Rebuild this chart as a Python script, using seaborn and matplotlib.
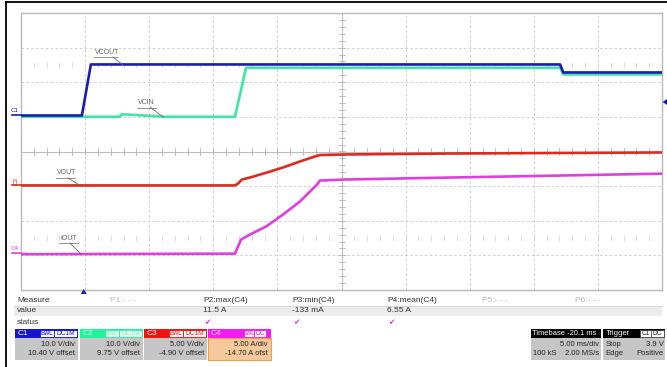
import matplotlib
matplotlib.use("Agg")
import matplotlib.pyplot as plt
import seaborn as sns
import pandas as pd
import numpy as np
from matplotlib.patches import Rectangle, Polygon

# ---- acquisition settings -------------------------------------------------
# horizontal: 5 ms/div, 10 divisions, trigger delay -20.1 ms (time in ms from trigger)
t_left = -4.9
ms_per_div = 5.0
n_hdiv = 10
n_vdiv = 8

# vertical settings per channel (units/div and offset)
ch_names = ["C1", "C2", "C3", "C4"]
ch_scale = [10.0, 10.0, 5.0, 5.0]
ch_offset = [10.40, 9.75, -4.90, -14.70]
ch_trace_label = ["VCOUT", "VCIN", "VOUT", "IOUT"]
ch_colors = ["#1c1cb0", "#3fe6a2", "#dc2a1e", "#e03ee0"]

# ---- captured waveforms (time in ms, value in V or A) ---------------------
c1_t = [-4.9, -0.15, 0.55, 37.15, 37.4, 45.1]
c1_v = [0.0, 0.0, 14.74, 14.74, 12.43, 12.43]

c2_t = [-4.9, 2.82, 2.9, 3.37, 6.33, 11.79, 12.65, 37.15, 37.4, 45.1]
c2_v = [0.28, 0.28, 0.94, 0.94, 0.28, 0.28, 14.44, 14.44, 12.5, 12.5]

c3_t = [-4.9, 11.79, 12.03, 12.34, 12.96, 14.29, 15.54, 16.86, 18.03, 18.42, 20.37, 28.56, 45.1]
c3_v = [0.0, 0.0, 0.28, 0.85, 1.14, 1.87, 2.59, 3.46, 4.18, 4.39, 4.47, 4.61, 4.76]

c4_t = [-4.9, 11.79, 12.26, 12.96, 14.21, 15.54, 16.86, 18.19, 18.42, 20.37, 28.56, 45.1]
c4_v = [-0.133, -0.05, 1.98, 2.71, 3.86, 5.60, 7.48, 9.93, 10.51, 10.65, 10.94, 11.5]

# ---- measurements ----------------------------------------------------------
meas_names = ["P1:- - -", "P2:max(C4)", "P3:min(C4)", "P4:mean(C4)", "P5:- - -", "P6:- - -"]
meas_values = ["", "11.5 A", "-133 mA", "6.55 A", "", ""]
meas_active = [False, True, True, True, False, False]

trigger_level = 3.9  # V on C1

# ---- build long table in screen divisions ---------------------------------
frames = []
for name, t, v, sc, off in zip(ch_names, [c1_t, c2_t, c3_t, c4_t],
                               [c1_v, c2_v, c3_v, c4_v], ch_scale, ch_offset):
    v = np.asarray(v, dtype=float)
    frames.append(pd.DataFrame({"t": t, "div": (v + off) / sc, "ch": name}))
df = pd.concat(frames, ignore_index=True)

UI_FONT = "Liberation Sans"
plt.rcParams["font.family"] = [UI_FONT, "DejaVu Sans"]

W, H = 667, 367
fig = plt.figure(figsize=(W / 100, H / 100), dpi=100)
fig.patch.set_facecolor("white")

# plot grid area in pixels
gx0, gx1, gy0, gy1 = 21, 662, 13, 290
ax = fig.add_axes([gx0 / W, (H - gy1) / H, (gx1 - gx0) / W, (gy1 - gy0) / H])
ax.set_facecolor("white")

t_right = t_left + n_hdiv * ms_per_div
t_center = t_left + n_hdiv / 2 * ms_per_div

# graticule
grid_kw = dict(color="#cdcdcd", lw=0.7, ls=(0, (2.5, 2.5)), zorder=0)
for k in range(1, n_hdiv):
    if k != n_hdiv // 2:
        ax.axvline(t_left + k * ms_per_div, **grid_kw)
for k in range(-n_vdiv // 2 + 1, n_vdiv // 2):
    if k != 0:
        ax.axhline(k, **grid_kw)
ax.axvline(t_center, color="#bdbdbd", lw=0.8, zorder=0)
ax.axhline(0, color="#bdbdbd", lw=0.8, zorder=0)

# minor ticks on the centre cross (1/5 division)
tick_color = "#b5b5b5"
hx = 3 / 64.1 * ms_per_div
hy = 3 / 34.6
for y in np.arange(-4, 4.001, 0.2):
    ax.plot([t_center - hx, t_center + hx], [y, y], color=tick_color, lw=0.6, zorder=0)
for x in np.arange(t_left, t_right + 0.001, ms_per_div / 5):
    ax.plot([x, x], [-hy, hy], color=tick_color, lw=0.6, zorder=0)
    for yr in (2.5, -2.5):
        ax.plot([x, x], [yr - hy * 0.6, yr + hy * 0.6], color="#d2d2d2", lw=0.6, zorder=0)

# traces
sns.lineplot(data=df, x="t", y="div", hue="ch",
             hue_order=["C3", "C4", "C2", "C1"],
             palette=dict(zip(ch_names, ch_colors)),
             estimator=None, sort=False, legend=False,
             linewidth=1.9, ax=ax, zorder=3)

ax.set_xlim(t_left, t_right)
ax.set_ylim(-n_vdiv / 2, n_vdiv / 2)
ax.set_xticks([])
ax.set_yticks([])
ax.set_xlabel("")
ax.set_ylabel("")
for s in ax.spines.values():
    s.set_color("#b8b8b8")
    s.set_linewidth(1.0)

# ---- overlay in pixel coordinates for screen annotations -------------------
ov = fig.add_axes([0, 0, 1, 1], zorder=5)
ov.set_xlim(0, W)
ov.set_ylim(H, 0)
ov.axis("off")
ov.patch.set_alpha(0)

# outer frame
ov.plot([6, W], [2, 2], color="black", lw=1.3)
ov.plot([6, 6], [2, H], color="black", lw=1.3)

def tx(t):
    return gx0 + (t - t_left) / ms_per_div * (gx1 - gx0) / n_hdiv

def ty(d):
    return (gy0 + gy1) / 2 - d * (gy1 - gy0) / n_vdiv

# trace labels with leader lines
lab_col = "#666666"
trace_labels = [
    ("VCOUT", 95, 52, (113, 57), (123, 65)),
    ("VCIN", 138, 103, (150, 107), (163, 117)),
    ("VOUT", 57, 173, (68, 178), (81, 186)),
    ("IOUT", 60, 238, (70, 243), (81, 254)),
]
for text, x, y, p0, p1 in trace_labels:
    ov.text(x, y, text, fontsize=5, color=lab_col, va="center", ha="left")
    ov.plot([x - 1, x + len(text) * 4.6], [y + 4.5, y + 4.5], color=lab_col, lw=0.5)
    ov.plot([p0[0], p1[0]], [p0[1], p1[1]], color=lab_col, lw=0.6)

# channel ground markers on the left edge
for name, col, off, sc in zip(ch_names, ch_colors, ch_offset, ch_scale):
    if name == "C2":
        continue
    yz = ty(off / sc)
    ov.plot([12, gx0], [yz, yz], color=col, lw=1.2)
    if name == "C3":
        ov.text(16, yz - 4, name, fontsize=4.5, color=col, rotation=90,
                ha="center", va="center")
    else:
        ov.text(11, yz - 5, name, fontsize=4.5, color=col, ha="left", va="center")

# trigger level marker (right) and trigger time marker (bottom)
yl = ty((trigger_level + ch_offset[0]) / ch_scale[0])
ov.add_patch(Polygon([[gx1 + 0.5, yl], [gx1 + 5, yl - 3], [gx1 + 5, yl + 3]],
                     closed=True, color=ch_colors[0], lw=0))
xt = tx(0.0)
ov.add_patch(Polygon([[xt, 289], [xt - 3, 294], [xt + 3, 294]],
                     closed=True, color=ch_colors[0], lw=0))

# ---- measurement table -----------------------------------------------------
txt_col = "#333333"
fs = 6
fsb = 5.5
ov.add_patch(Rectangle((14, 305.5), gx1 - 14, 10.5, fc="#ececec", ec="none"))
ov.plot([14, gx1], [305.5, 305.5], color="#d0d0d0", lw=0.5)
ov.text(17, 300, "Measure", fontsize=fs, color=txt_col, va="center")
ov.text(17, 311, "value", fontsize=fs, color=txt_col, va="center")
ov.text(17, 322, "status", fontsize=fs, color=txt_col, va="center")
meas_x = [110, 203, 292, 387, 482, 575]
for x, name, val, act in zip(meas_x, meas_names, meas_values, meas_active):
    ov.text(x, 300, name, fontsize=fs, color=txt_col if act else "#b8b8b8", va="center")
    if val:
        ov.text(x, 311, val, fontsize=fs, color=txt_col, va="center")
    if act:
        ov.text(x + 1, 322.5, "\u2714", fontsize=5.5, color="#d63ad6", va="center",
                family="DejaVu Sans")

# ---- channel descriptor boxes ----------------------------------------------
hy0, hy1, by1 = 329, 338, 360
boxes = [
    # name, x0, x1, header color, name color, tags, tag face, tag text, body face, body edge, lines
    ("C1", 15, 78, "#1414c8", "white", [("BwL", 40, 54), ("DC1M", 54, 77)], "white", "#1414c8",
     "#c6c6c6", "none", ["10.0 V/div", "10.40 V offset"]),
    ("C2", 80, 143, "#22f29a", "#d8fff0", [("BwL", 105, 119), ("DC1M", 119, 142)], "#eafff6", "#7be8bd",
     "#c6c6c6", "none", ["10.0 V/div", "9.75 V offset"]),
    ("C3", 144, 207, "#f01414", "white", [("BwL", 169, 183), ("DC1M", 183, 206)], "white", "#e01414",
     "#c6c6c6", "none", ["5.00 V/div", "-4.90 V offset"]),
    ("C4", 208, 271, "#f21cf2", "#ffd0ff", [("BwL", 244, 254), ("DC", 254, 266)], "white", "#e01ce0",
     "#f6c99c", "#eea048", ["5.00 A/div", "-14.70 A ofst"]),
]
for (name, x0, x1, hc, nc, tags, tf, tt, bf, be, lines) in boxes:
    ov.add_patch(Rectangle((x0, hy0), x1 - x0, hy1 - hy0, fc=hc, ec="none"))
    ov.text(x0 + 3, (hy0 + hy1) / 2 + 0.3, name, fontsize=6, color=nc, va="center")
    for lab, a, b in tags:
        ov.add_patch(Rectangle((a, hy0 + 1), b - a, hy1 - hy0 - 2, fc=tf, ec=hc, lw=0.6))
        ov.text((a + b) / 2, (hy0 + hy1) / 2 + 0.3, lab, fontsize=4.8, color=tt,
                ha="center", va="center")
    ov.add_patch(Rectangle((x0, hy1), x1 - x0, by1 - hy1, fc=bf, ec=be, lw=0.8))
    ov.text(x1 - 3, 344.5, lines[0], fontsize=fsb, color="#222222", ha="right", va="center")
    ov.text(x1 - 3, 353.5, lines[1], fontsize=fsb, color="#222222", ha="right", va="center")

# timebase box
ov.add_patch(Rectangle((531, hy0), 70, hy1 - hy0, fc="black", ec="none"))
ov.text(532.5, (hy0 + hy1) / 2 + 0.3, "Timebase -20.1 ms", fontsize=5.4, color="white", va="center")
ov.add_patch(Rectangle((531, hy1), 70, by1 - hy1, fc="#c6c6c6", ec="none"))
ov.text(599.5, 344.5, "5.00 ms/div", fontsize=fsb, color="#222222", ha="right", va="center")
ov.text(533, 353.5, "100 kS", fontsize=fsb, color="#222222", ha="left", va="center")
ov.text(599.5, 353.5, "2.00 MS/s", fontsize=fsb, color="#222222", ha="right", va="center")

# trigger box
ov.add_patch(Rectangle((603, hy0), 62, hy1 - hy0, fc="black", ec="none"))
ov.text(605.5, (hy0 + hy1) / 2 + 0.3, "Trigger", fontsize=fsb, color="white", va="center")
for lab, a, b in [("C1", 640, 651), ("DC", 651, 664)]:
    ov.add_patch(Rectangle((a, hy0 + 1), b - a, hy1 - hy0 - 2, fc="white", ec="#444444", lw=0.5))
    ov.text((a + b) / 2, (hy0 + hy1) / 2 + 0.3, lab, fontsize=4.8, color="#222222",
            ha="center", va="center")
ov.add_patch(Rectangle((603, hy1), 62, by1 - hy1, fc="#c6c6c6", ec="none"))
ov.text(605.5, 344.5, "Stop", fontsize=fsb, color="#222222", va="center")
ov.text(663.5, 344.5, "3.9 V", fontsize=fsb, color="#222222", ha="right", va="center")
ov.text(605.5, 353.5, "Edge", fontsize=fsb, color="#222222", va="center")
ov.text(663.5, 353.5, "Positive", fontsize=fsb, color="#222222", ha="right", va="center")

fig.savefig("out.png", dpi=100, facecolor="white")
